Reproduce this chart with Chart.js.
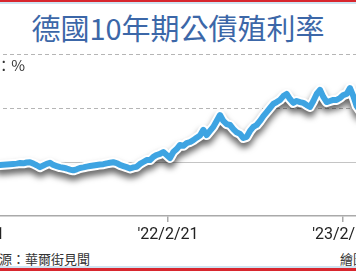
<!DOCTYPE html>
<html>
<head>
<meta charset="utf-8">
<script src="https://cdn.jsdelivr.net/npm/chart.js@4"></script>
<style>
  html, body { margin: 0; padding: 0; background: #fff; }
  #page { position: relative; width: 356px; height: 272px; overflow: hidden; background: #fff;
          font-family: "Noto Sans CJK TC", "Noto Sans", sans-serif; }
  #topRed { position: absolute; left: 0; top: 0; width: 356px; height: 2px; background: #d8262e; }
  #topBlue { position: absolute; left: 0; top: 2px; width: 356px; height: 2px; background: #cfe3f1; }
  #botBlue { position: absolute; left: 0; top: 266px; width: 356px; height: 2px; background: #cfe3f1; }
  #botRed { position: absolute; left: 0; top: 268px; width: 356px; height: 3px; background: #d8262e; }
  #title { position: absolute; left: 0; top: 8px; width: 356px; text-align: center;
           font-size: 29px; line-height: 38px; color: #3c67a8; font-weight: normal; }
  #unit { position: absolute; right: 331px; top: 55px; font-size: 15px; line-height: 20px; color: #333; white-space: nowrap; }
  #src { position: absolute; left: -40px; top: 250px; font-size: 13px; line-height: 17px; color: #333; white-space: nowrap; }
  #drawn { position: absolute; left: 340px; top: 250px; font-size: 13px; line-height: 17px; color: #333; white-space: nowrap; }
  #wrap { position: absolute; left: -60px; top: 50px; width: 476px; height: 196px; }
</style>
</head>
<body>
<div id="page">
  <div id="topRed"></div><div id="topBlue"></div>
  <div id="title">德國10年期公債殖利率</div>
  <div id="wrap"><canvas id="yieldChart"></canvas></div>
  <div id="unit">單位：%</div>
  <div id="src">資料來源：華爾街見聞</div>
  <div id="drawn">繪圖</div>
  <div id="botBlue"></div><div id="botRed"></div>
</div>
<script>
// German 10y bund yield (%), weekly
var yields = [
  -0.11, -0.10, -0.09, -0.08, -0.07, -0.06, -0.04, -0.05, -0.02, -0.01,
  -0.06, -0.12, -0.19, -0.13, -0.07, -0.03, -0.11, -0.15, -0.19, -0.21,
  -0.24, -0.28, -0.31, -0.27, -0.22, -0.20, -0.17, -0.15, -0.13, -0.11,
  -0.09, -0.08, -0.05, -0.03, -0.01, -0.04, -0.11, -0.15, -0.19, -0.24,
  -0.20, -0.18, -0.07, 0.00, 0.07, 0.07, 0.19, 0.26, 0.30, 0.37,
  0.26, 0.15, 0.37, 0.48, 0.63, 0.60, 0.70, 0.74, 0.81, 0.90,
  0.98, 1.19, 1.00, 1.15, 1.30, 1.52, 1.74, 1.52, 1.40, 1.37,
  1.22, 1.10, 1.04, 0.89, 0.93, 1.15, 1.30, 1.37, 1.52, 1.70,
  1.85, 2.00, 2.15, 2.22, 2.30, 2.44, 2.52, 2.33, 2.19, 2.26,
  2.22, 2.19, 2.11, 2.04, 2.26, 2.52, 2.67, 2.41, 2.22, 2.26,
  2.30, 2.30, 2.37, 2.48, 2.52, 2.74, 2.44, 2.07, 1.90
];
var tickPos = [-7.8, 50.4, 102.8];
var tickLabels = ["'21/2/21", "'22/2/21", "'23/2/21"];
var yGrid = [-2, 0, 2, 4];

var points = yields.map(function (v, i) { return { x: i, y: v }; });

// white halo + soft drop shadow under the blue line
var shadowPlugin = {
  id: 'shadow',
  beforeDatasetDraw: function (chart, args) {
    if (args.index === 1) {
      var ctx = chart.ctx;
      ctx.save();
      ctx.shadowColor = 'rgba(0,0,0,0.6)';
      ctx.shadowBlur = 6;
      ctx.shadowOffsetY = 5;
    }
  },
  afterDatasetDraw: function (chart, args) {
    if (args.index === 1) chart.ctx.restore();
  }
};

new Chart("yieldChart", {
  type: "line",
  data: {
    datasets: [{
      data: points,
      borderColor: '#3ea4e2',
      borderWidth: 6,
      pointRadius: 0,
      tension: 0,
      borderJoinStyle: 'round',
      borderCapStyle: 'round'
    }, {
      data: points,
      borderColor: '#ffffff',
      borderWidth: 10,
      pointRadius: 0,
      tension: 0,
      borderJoinStyle: 'round',
      borderCapStyle: 'round'
    }]
  },
  options: {
    responsive: true,
    maintainAspectRatio: false,
    animation: false,
    layout: { padding: { top: 4, left: 0, right: 0, bottom: 0 } },
    plugins: { legend: { display: false }, tooltip: { enabled: false } },
    scales: {
      x: {
        type: 'linear',
        min: -18,
        max: 124.8,
        afterBuildTicks: function (s) { s.ticks = tickPos.map(function (v) { return { value: v }; }); },
        afterFit: function (s) { s.height = 30; },
        ticks: {
          autoSkip: false, maxRotation: 0, padding: 3, color: '#222',
          font: { family: 'Roboto', size: 16 },
          callback: function (v, i) { return tickLabels[i]; }
        },
        grid: { drawOnChartArea: false, tickLength: 6, color: '#aaa', lineWidth: 1.5 },
        border: { display: true, color: '#aaa', width: 1.5 }
      },
      y: {
        min: -2,
        max: 4,
        afterBuildTicks: function (s) { s.ticks = yGrid.map(function (v) { return { value: v }; }); },
        afterFit: function (s) { s.width = 0; },
        ticks: { display: false },
        grid: {
          drawTicks: false,
          lineWidth: 1,
          color: function (c) {
            if (!c.tick || c.tick.value === -2) return 'rgba(0,0,0,0)';
            return c.tick.value === 0 ? '#c4c4c4' : '#b5b5b5';
          }
        },
        border: {
          display: false,
          dash: function (c) { return c.tick && c.tick.value === 0 ? [] : [4, 3]; }
        }
      }
    }
  },
  plugins: [shadowPlugin]
});
</script>
</body>
</html>
